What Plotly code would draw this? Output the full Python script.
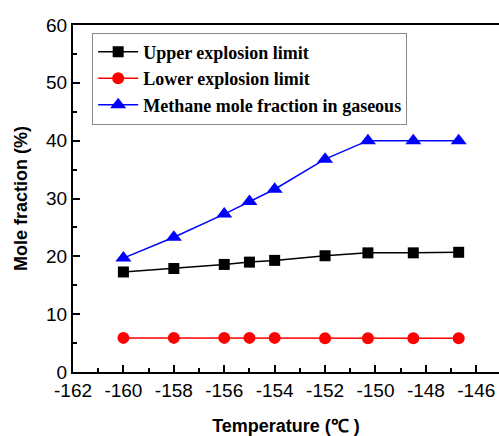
import plotly.graph_objects as go

temperature = [-160, -158, -156, -155, -154, -152, -150.3, -148.5, -146.7]
upper_limit = [17.3, 17.9, 18.6, 19.0, 19.3, 20.1, 20.6, 20.6, 20.7]
lower_limit = [5.9, 5.9, 5.9, 5.9, 5.9, 5.85, 5.85, 5.85, 5.85]
methane_frac = [19.7, 23.3, 27.3, 29.5, 31.6, 36.8, 40.0, 40.0, 40.0]

x_ticks = [-162, -160, -158, -156, -154, -152, -150, -148, -146]
y_ticks = [0, 10, 20, 30, 40, 50, 60]

fig = go.Figure()
fig.add_trace(go.Scatter(x=temperature, y=upper_limit, mode="lines+markers",
                         name="<b>Upper explosion limit</b>",
                         line=dict(color="black", width=1.5),
                         marker=dict(symbol="square", size=11, color="black")))
fig.add_trace(go.Scatter(x=temperature, y=lower_limit, mode="lines+markers",
                         name="<b>Lower explosion limit</b>",
                         line=dict(color="#ff0000", width=1.5),
                         marker=dict(symbol="circle", size=12, color="#ff0000")))
fig.add_trace(go.Scatter(x=temperature, y=methane_frac, mode="lines+markers",
                         name="<b>Methane mole fraction in gaseous</b>",
                         line=dict(color="#0000ff", width=1.5),
                         marker=dict(symbol="triangle-up", size=14, color="#0000ff")))

fig.update_layout(
    width=499, height=436,
    margin=dict(l=73, r=0, t=25, b=64),
    paper_bgcolor="white", plot_bgcolor="white",
    showlegend=True,
    legend=dict(x=0.045, y=0.978, xanchor="left", yanchor="top",
                bordercolor="#888888", borderwidth=1, bgcolor="white",
                font=dict(family="Liberation Serif", size=18, color="black"),
                tracegroupgap=0, itemwidth=40),
    font=dict(family="Liberation Sans", color="black"),
)
fig.update_xaxes(range=[-162, -145.1], tickvals=x_ticks,
                 ticktext=[str(v) for v in x_ticks], automargin=False,
                 ticks="inside", ticklen=7, tickwidth=1.5, tickcolor="black",
                 minor=dict(dtick=1, ticks="inside", ticklen=4, tickwidth=1.5, tickcolor="black"),
                 showline=True, linecolor="black", linewidth=2, mirror=True,
                 showgrid=False, zeroline=False,
                 tickfont=dict(size=19, family="Liberation Sans"),
                 title=dict(text="<b>Temperature (℃ )</b>", font=dict(size=18), standoff=20))
fig.update_yaxes(range=[0, 60], tickvals=y_ticks, automargin=False,
                 ticks="inside", ticklen=7, tickwidth=1.5, tickcolor="black",
                 minor=dict(dtick=5, ticks="inside", ticklen=4, tickwidth=1.5, tickcolor="black"),
                 showline=True, linecolor="black", linewidth=2, mirror=False,
                 showgrid=False, zeroline=False,
                 tickfont=dict(size=19, family="Liberation Sans"),
                 title=dict(text="<b>Mole fraction (%)</b>", font=dict(size=18), standoff=14))

fig.write_html("out.html",
               config={"displayModeBar": False},
               post_script="document.body.style.margin='0';document.body.style.overflow='hidden';"
                           "document.documentElement.style.overflow='hidden';")
